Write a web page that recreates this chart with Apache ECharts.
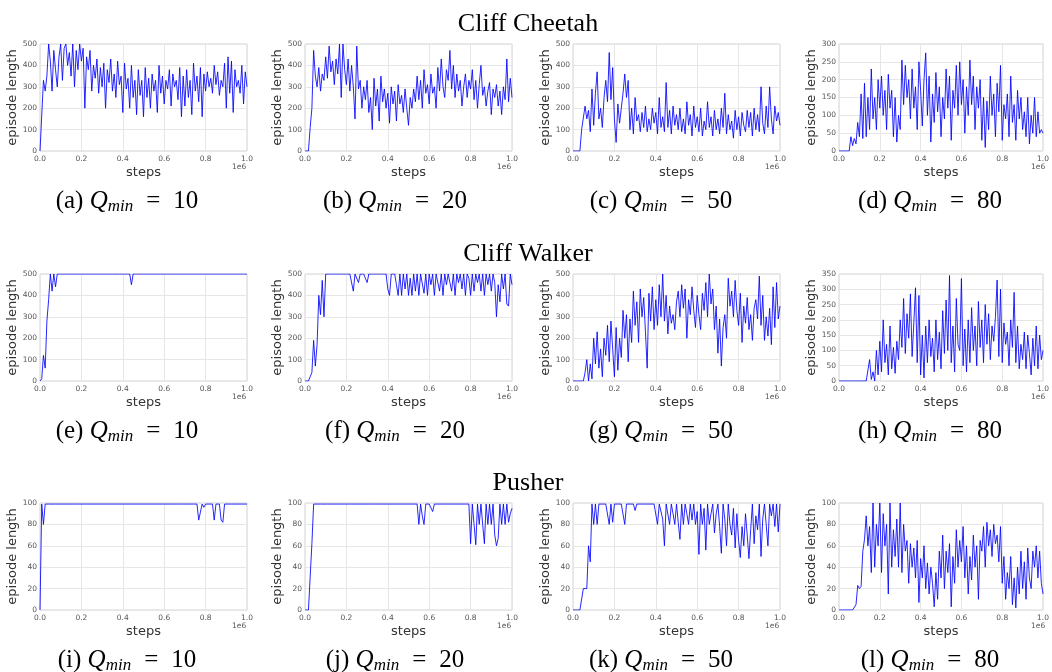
<!DOCTYPE html>
<html>
<head>
<meta charset="utf-8">
<title>episode length</title>
<script src="https://cdn.jsdelivr.net/npm/echarts@6/dist/echarts.min.js"></script>
<style>
  html, body { margin: 0; padding: 0; background: #fff; }
  #chart { width: 1052px; height: 672px; }
</style>
</head>
<body>
<div id="chart"></div>
<script>
// x ticks (in units of 1e6 steps); every series is sampled evenly from 0 to 1
var stepTicks = [0.0, 0.2, 0.4, 0.6, 0.8, 1.0]

// Cliff Cheetah
var cheetah10 = [
  0, 0, 330, 280, 350, 500, 420, 280, 470, 380, 300, 440,
  500, 330, 480, 500, 400, 460, 350, 500, 300, 470, 380, 500,
  420, 480, 200, 440, 380, 470, 280, 400, 340, 430, 270, 390,
  300, 410, 200, 380, 320, 430, 280, 360, 250, 420, 310, 350,
  180, 410, 290, 340, 200, 400, 250, 330, 170, 380, 260, 330,
  160, 390, 250, 340, 200, 360, 280, 330, 180, 400, 270, 350,
  220, 330, 290, 380, 210, 360, 300, 330, 240, 390, 160, 350,
  210, 380, 250, 330, 170, 410, 280, 350, 230, 390, 160, 360,
  280, 370, 300, 340, 270, 400, 310, 370, 260, 330, 300, 410,
  200, 440, 270, 420, 180, 380, 300, 330, 270, 400, 220, 370,
  300
]
var cheetah20 = [
  0, 0, 0, 110, 200, 470, 350, 300, 390, 280, 360, 330,
  440, 340, 490, 370, 420, 310, 430, 360, 500, 250, 500, 380,
  310, 430, 280, 400, 300, 150, 490, 290, 330, 200, 300, 240,
  330, 180, 250, 100, 340, 210, 290, 140, 350, 230, 290, 200,
  270, 130, 300, 220, 280, 140, 310, 220, 260, 180, 290, 200,
  120, 250, 200, 290, 230, 350, 240, 330, 200, 380, 270, 310,
  220, 360, 270, 300, 200, 390, 280, 430, 300, 250, 380, 330,
  470, 290, 400, 250, 360, 280, 330, 210, 300, 360, 250, 330,
  290, 380, 240, 330, 200, 310, 400, 260, 300, 210, 280, 320,
  170, 290, 250, 310, 210, 280, 170, 300, 240, 430, 230, 340,
  250
]
var cheetah50 = [
  0, 0, 0, 0, 0, 100, 100, 210, 150, 190, 90, 290,
  120, 270, 370, 150, 200, 110, 250, 330, 230, 460, 240, 390,
  150, 40, 220, 130, 200, 270, 360, 250, 330, 100, 200, 80,
  250, 140, 170, 90, 180, 110, 210, 90, 150, 100, 200, 130,
  180, 80, 250, 110, 160, 90, 320, 110, 190, 80, 210, 120,
  170, 100, 200, 90, 150, 80, 230, 120, 170, 70, 210, 110,
  160, 90, 200, 70, 140, 100, 230, 110, 160, 70, 190, 100,
  150, 80, 200, 110, 270, 80, 170, 100, 140, 60, 190, 100,
  160, 70, 180, 120, 90, 190, 110, 180, 70, 200, 100, 170,
  90, 300, 130, 80, 210, 110, 300, 150, 80, 210, 140, 180,
  120
]
var cheetah80 = [
  0, 0, 0, 0, 0, 0, 0, 40, 15, 35, 20, 80,
  40, 160, 35, 190, 40, 150, 60, 230, 90, 150, 60, 200,
  120, 210, 100, 170, 60, 215, 120, 170, 40, 150, 25, 100,
  60, 255, 130, 240, 150, 200, 90, 230, 120, 180, 60, 250,
  170, 70, 200, 275, 100, 210, 25, 160, 80, 220, 110, 180,
  40, 150, 90, 230, 120, 210, 30, 170, 120, 240, 100, 250,
  130, 200, 50, 180, 100, 255, 130, 210, 60, 180, 120, 200,
  30, 150, 10, 140, 60, 210, 100, 160, 40, 190, 110, 240,
  30, 130, 90, 160, 40, 210, 80, 130, 30, 170, 90, 150,
  60, 110, 40, 150, 20, 100, 50, 150, 40, 110, 50, 60,
  50
]

// Cliff Walker
var walker10 = [
  0, 10, 120, 60, 280, 380, 500, 420, 500, 440, 500, 500,
  500, 500, 500, 500, 500, 500, 500, 500, 500, 500, 500, 500,
  500, 500, 500, 500, 500, 500, 500, 500, 500, 500, 500, 500,
  500, 500, 500, 500, 500, 500, 500, 500, 500, 500, 500, 500,
  500, 500, 500, 500, 500, 450, 500, 500, 500, 500, 500, 500,
  500, 500, 500, 500, 500, 500, 500, 500, 500, 500, 500, 500,
  500, 500, 500, 500, 500, 500, 500, 500, 500, 500, 500, 500,
  500, 500, 500, 500, 500, 500, 500, 500, 500, 500, 500, 500,
  500, 500, 500, 500, 500, 500, 500, 500, 500, 500, 500, 500,
  500, 500, 500, 500, 500, 500, 500, 500, 500, 500, 500, 500,
  500
]
var walker20 = [
  0, 0, 0, 20, 40, 190, 70, 170, 400, 310, 470, 300,
  500, 500, 500, 500, 500, 500, 500, 500, 500, 500, 500, 500,
  500, 500, 500, 500, 420, 500, 500, 460, 500, 500, 500, 500,
  460, 500, 500, 500, 500, 500, 500, 500, 500, 500, 500, 500,
  430, 400, 500, 500, 500, 450, 400, 500, 400, 500, 430, 500,
  400, 480, 400, 500, 420, 500, 400, 500, 500, 410, 500, 400,
  500, 450, 500, 400, 500, 500, 420, 500, 400, 500, 450, 500,
  500, 420, 500, 400, 500, 460, 500, 430, 500, 400, 500, 480,
  400, 500, 420, 500, 460, 500, 420, 500, 400, 500, 450, 500,
  420, 500, 460, 300, 450, 370, 500, 430, 500, 360, 350, 500,
  450
]
var walker50 = [
  0, 0, 0, 0, 0, 0, 0, 40, 100, 0, 80, 10,
  200, 80, 230, 60, 150, 20, 200, 120, 260, 90, 280, 150,
  20, 250, 50, 200, 110, 330, 200, 310, 90, 290, 180, 420,
  260, 370, 180, 430, 300, 390, 230, 60, 410, 280, 440, 240,
  380, 260, 450, 300, 500, 280, 400, 220, 350, 270, 310, 240,
  370, 420, 300, 450, 340, 430, 200, 380, 310, 440, 330, 250,
  400, 310, 240, 410, 330, 460, 300, 500, 360, 430, 240, 350,
  130, 290, 70, 250, 310, 200, 480, 350, 420, 300, 470, 330,
  260, 410, 180, 350, 270, 390, 240, 310, 190, 340, 380, 290,
  490, 260, 400, 190, 300, 210, 340, 170, 440, 250, 460, 290,
  350
]
var walker80 = [
  0, 0, 0, 0, 0, 0, 0, 0, 0, 0, 0, 0,
  0, 0, 0, 0, 0, 0, 70, 5, 30, 0, 100, 20,
  130, 30, 200, 60, 120, 20, 180, 40, 110, 25, 130, 70,
  200, 110, 270, 90, 220, 140, 285, 80, 190, 305, 60, 280,
  20, 150, 10, 180, 60, 200, 80, 140, 30, 200, 70, 160,
  40, 230, 90, 265, 100, 345, 60, 180, 30, 270, 120, 100,
  335, 50, 170, 30, 200, 60, 240, 100, 180, 50, 260, 110,
  200, 60, 250, 120, 220, 70, 180, 130, 210, 330, 80, 300,
  60, 190, 120, 160, 50, 200, 110, 290, 60, 180, 40, 120,
  70, 160, 40, 150, 90, 20, 140, 50, 180, 40, 150, 70,
  100
]

// Pusher
var pusher10 = [
  0, 99, 80, 99, 99, 99, 99, 99, 99, 99, 99, 99,
  99, 99, 99, 99, 99, 99, 99, 99, 99, 99, 99, 99,
  99, 99, 99, 99, 99, 99, 99, 99, 99, 99, 99, 99,
  99, 99, 99, 99, 99, 99, 99, 99, 99, 99, 99, 99,
  99, 99, 99, 99, 99, 99, 99, 99, 99, 99, 99, 99,
  99, 99, 99, 99, 99, 99, 99, 99, 99, 99, 99, 99,
  99, 99, 99, 99, 99, 99, 99, 99, 99, 99, 99, 99,
  99, 99, 99, 99, 99, 99, 99, 99, 84, 83, 99, 96,
  99, 99, 99, 99, 99, 84, 99, 99, 99, 84, 82, 99,
  99, 99, 99, 99, 99, 99, 99, 99, 99, 99, 99, 99,
  99
]
var pusher20 = [
  0, 0, 0, 0, 62, 99, 99, 99, 99, 99, 99, 99,
  99, 99, 99, 99, 99, 99, 99, 99, 99, 99, 99, 99,
  99, 99, 99, 99, 99, 99, 99, 99, 99, 99, 99, 99,
  99, 99, 99, 99, 99, 99, 99, 99, 99, 99, 99, 99,
  99, 99, 99, 99, 99, 99, 99, 99, 99, 99, 99, 99,
  99, 99, 99, 99, 99, 99, 80, 99, 88, 80, 99, 99,
  99, 99, 92, 99, 99, 99, 99, 99, 99, 99, 99, 99,
  99, 99, 99, 99, 99, 99, 99, 99, 99, 99, 99, 99,
  62, 99, 80, 61, 99, 80, 99, 80, 62, 99, 80, 99,
  80, 99, 70, 60, 67, 99, 80, 99, 80, 99, 82, 90,
  95
]
var pusher50 = [
  0, 0, 0, 0, 0, 0, 20, 20, 20, 60, 45, 99,
  80, 99, 80, 99, 99, 99, 99, 99, 99, 80, 99, 82,
  99, 99, 99, 99, 99, 99, 80, 99, 99, 99, 99, 99,
  93, 99, 99, 99, 99, 99, 99, 99, 99, 99, 99, 99,
  99, 80, 99, 99, 85, 60, 99, 99, 80, 99, 90, 80,
  99, 82, 66, 99, 80, 99, 90, 80, 99, 84, 99, 80,
  92, 52, 99, 80, 95, 56, 99, 80, 90, 99, 72, 90,
  99, 78, 53, 99, 85, 60, 99, 80, 70, 95, 58, 90,
  65, 49, 78, 60, 90, 70, 48, 75, 99, 62, 88, 75,
  99, 50, 85, 99, 80, 60, 99, 88, 99, 78, 99, 73,
  99
]
var pusher80 = [
  0, 0, 0, 0, 0, 0, 0, 0, 0, 0, 5, 23,
  20, 22, 55, 66, 88, 60, 78, 35, 100, 40, 80, 60,
  100, 35, 90, 60, 80, 15, 100, 40, 75, 50, 85, 40,
  100, 35, 80, 55, 65, 25, 62, 40, 58, 30, 65, 7,
  48, 30, 60, 20, 44, 15, 40, 25, 3, 35, 10, 55,
  30, 70, 20, 55, 35, 62, 3, 50, 25, 75, 40, 65,
  45, 78, 30, 60, 15, 50, 28, 70, 40, 60, 10, 65,
  55, 78, 40, 82, 60, 75, 50, 80, 62, 70, 45, 78,
  25, 50, 10, 35, 20, 50, 5, 30, 2, 40, 15, 55,
  20, 45, 10, 58, 30, 20, 55, 40, 60, 30, 55, 25,
  15
]

var rowTitles = ['Cliff Cheetah', 'Cliff Walker', 'Pusher']
var panelLetters = ['a', 'b', 'c', 'd', 'e', 'f', 'g', 'h', 'i', 'j', 'k', 'l']
var qMin = ['10', '20', '50', '80']
var panelData = [
  cheetah10, cheetah20, cheetah50, cheetah80,
  walker10, walker20, walker50, walker80,
  pusher10, pusher20, pusher50, pusher80
]
var yMax = [500, 500, 500, 300, 500, 500, 500, 350, 100, 100, 100, 100]
var yStep = [100, 100, 100, 50, 100, 100, 100, 50, 20, 20, 20, 20]

// layout
var colLeft = [40, 305, 573, 839]
var colWidth = 207
var rowTop = [44, 274, 503]
var plotH = 107
var captionX = [127, 395, 661, 930]

var serif = 'Liberation Serif, Times New Roman, serif'
var sans = 'DejaVu Sans, sans-serif'

function buildOption () {
  var grids = []
  var xAxes = []
  var yAxes = []
  var series = []
  var graphics = []
  var titles = []

  rowTitles.forEach(function (t, r) {
    titles.push({
      text: t,
      left: 523,
      top: rowTop[r] - 38,
      textAlign: 'center',
      textStyle: { fontFamily: serif, fontSize: 26, fontWeight: 'normal', color: '#000' }
    })
  })

  for (var p = 0; p < 12; p++) {
    var r = Math.floor(p / 4)
    var c = p % 4
    var y0 = rowTop[r]
    grids.push({
      left: colLeft[c],
      top: y0,
      width: colWidth,
      height: plotH,
      show: true,
      borderColor: '#d4d4d4',
      borderWidth: 1,
      backgroundColor: 'transparent'
    })
    xAxes.push({
      type: 'value',
      gridIndex: p,
      min: 0,
      max: 1,
      interval: 0.2,
      name: 'steps',
      nameLocation: 'middle',
      nameGap: 15,
      nameTextStyle: { fontFamily: sans, fontSize: 13, color: '#333' },
      axisLine: { show: false },
      axisTick: { show: false },
      axisLabel: {
        fontFamily: sans, fontSize: 7.5, color: '#555', margin: 4,
        formatter: function (v) { return v.toFixed(1) }
      },
      splitLine: { show: true, lineStyle: { color: '#e6e6e6', width: 1 } }
    })
    yAxes.push({
      type: 'value',
      gridIndex: p,
      min: 0,
      max: yMax[p],
      interval: yStep[p],
      name: 'episode length',
      nameLocation: 'middle',
      nameGap: 19,
      nameRotate: 90,
      nameTextStyle: { fontFamily: sans, fontSize: 13, color: '#333' },
      axisLine: { show: false },
      axisTick: { show: false },
      axisLabel: { fontFamily: sans, fontSize: 7.5, color: '#555', margin: 3 },
      splitLine: { show: true, lineStyle: { color: '#e6e6e6', width: 1 } }
    })
    var vals = panelData[p]
    series.push({
      type: 'line',
      xAxisIndex: p,
      yAxisIndex: p,
      showSymbol: false,
      symbol: 'none',
      animation: false,
      lineStyle: { color: '#0000ff', width: 1, opacity: 0.85 },
      data: vals.map(function (v, i) { return [i / (vals.length - 1), v] })
    })
    // offset label under the right end of the x axis
    graphics.push({
      type: 'text',
      left: colLeft[c] + colWidth - 15,
      top: y0 + plotH + 12,
      style: { text: '1e6', font: '7.5px ' + sans, fill: '#555' }
    })
    graphics.push({
      type: 'text',
      x: captionX[c],
      y: y0 + 157,
      style: {
        text: '{n|(' + panelLetters[p] + ') }{q|Q}{s|min}{e|=}{n|' + qMin[c] + '}',
        align: 'center',
        verticalAlign: 'middle',
        rich: {
          n: { fontFamily: serif, fontSize: 25, color: '#000', lineHeight: 30 },
          q: { fontFamily: serif, fontSize: 25, fontStyle: 'italic', color: '#000', lineHeight: 30 },
          s: { fontFamily: serif, fontSize: 17, fontStyle: 'italic', color: '#000', lineHeight: 30, padding: [11, 0, 0, 0] },
          e: { fontFamily: serif, fontSize: 25, color: '#000', lineHeight: 30, padding: [0, 13, 0, 13] }
        }
      }
    })
  }

  return {
    animation: false,
    title: titles,
    grid: grids,
    xAxis: xAxes,
    yAxis: yAxes,
    series: series,
    graphic: graphics
  }
}

var chart = echarts.init(document.getElementById('chart'))
chart.setOption(buildOption())
</script>
</body>
</html>
